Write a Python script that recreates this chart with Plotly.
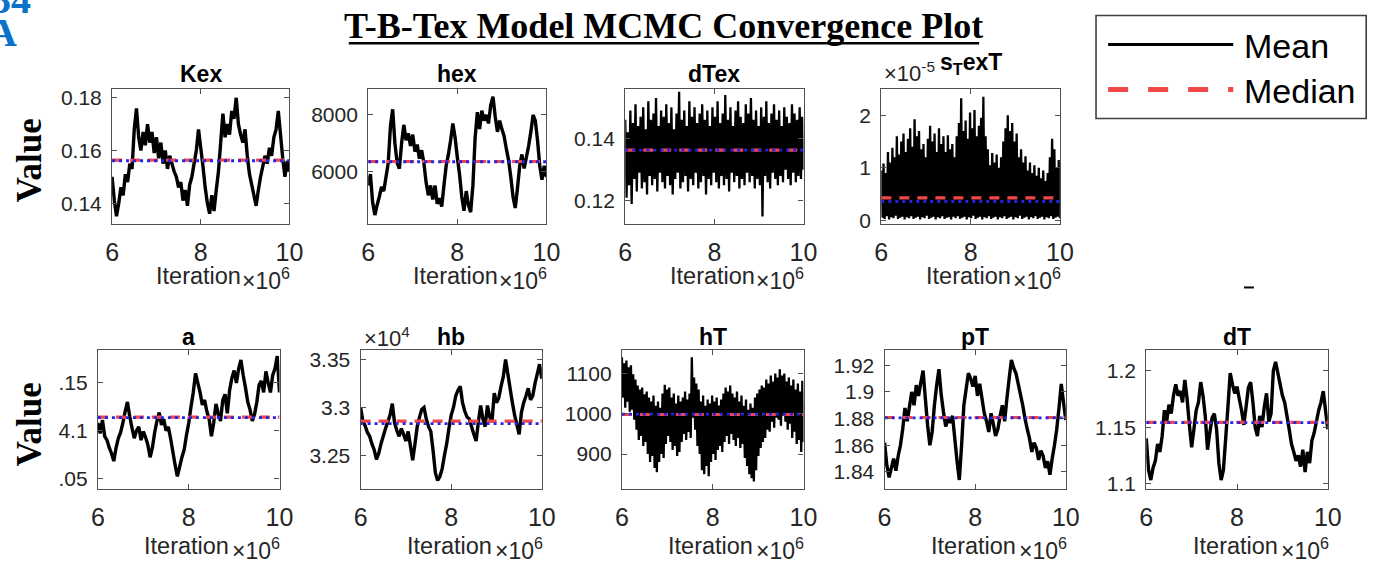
import numpy as np
import plotly.graph_objects as go

W, H = 1393, 577
ITER_START, ITER_END = 6e6, 10e6

# ---------------- data ----------------
kex = [0.150,0.141,0.135,0.140,0.146,0.143,0.151,0.148,0.155,0.153,
       0.168,0.176,0.165,0.160,0.167,0.162,0.170,0.163,0.167,0.159,
       0.165,0.157,0.163,0.155,0.160,0.153,0.158,0.155,0.152,0.150,
       0.146,0.148,0.141,0.145,0.139,0.147,0.150,0.155,0.160,0.168,
       0.161,0.154,0.146,0.140,0.136,0.143,0.137,0.145,0.152,0.163,
       0.174,0.165,0.170,0.166,0.175,0.172,0.180,0.170,0.166,0.163,
       0.168,0.158,0.151,0.147,0.143,0.139,0.145,0.150,0.154,0.158,
       0.155,0.161,0.158,0.165,0.168,0.175,0.166,0.157,0.150,0.156,
       0.152]

hex_vals = [5500,5900,4900,4450,4800,5100,5450,5300,5800,6300,
            7600,8200,7000,6300,6100,7000,7650,7100,7350,6900,
            7300,6700,6950,6450,6750,6300,5600,5150,5500,5000,
            5500,4850,5050,4750,5500,6200,6600,7100,7700,7200,
            6500,5900,5100,4600,5300,4800,4550,5500,7200,8100,
            7500,8150,7800,8000,7700,8350,8650,7950,7400,7800,
            7500,7250,6800,6400,5800,5100,4700,5400,6200,6600,
            6100,6500,6900,7400,8000,7800,7100,6200,5700,6200,
            5800]

dtex_hi = [0.146,0.142,0.149,0.145,0.151,0.144,0.147,0.150,0.143,0.152,
           0.146,0.148,0.153,0.144,0.149,0.147,0.151,0.145,0.150,0.143,
           0.148,0.155,0.146,0.149,0.144,0.152,0.147,0.150,0.145,0.148,
           0.151,0.146,0.149,0.144,0.150,0.147,0.152,0.145,0.148,0.154,
           0.146,0.150,0.144,0.149,0.152,0.147,0.145,0.151,0.148,0.153,
           0.146,0.149,0.144,0.150,0.147,0.152,0.145,0.148,0.151,0.146,
           0.149,0.144,0.150,0.147,0.145,0.151,0.148,0.146,0.150,0.147]
dtex_lo = [0.121,0.125,0.119,0.127,0.123,0.129,0.124,0.126,0.122,0.128,
           0.125,0.127,0.123,0.129,0.126,0.124,0.128,0.125,0.122,0.127,
           0.129,0.124,0.126,0.128,0.123,0.127,0.125,0.129,0.124,0.126,
           0.128,0.122,0.127,0.125,0.129,0.126,0.124,0.128,0.125,0.127,
           0.123,0.129,0.126,0.128,0.124,0.127,0.125,0.129,0.126,0.128,
           0.124,0.127,0.125,0.115,0.128,0.126,0.124,0.129,0.127,0.125,
           0.128,0.126,0.130,0.127,0.125,0.129,0.126,0.128,0.127,0.130]

# s_TexT values in units of 1e-5
stext_hi_e5 = [0.95,1.08,0.90,1.30,1.10,1.38,1.20,1.60,1.25,1.50,
               1.65,1.30,1.55,1.75,1.40,1.92,1.60,1.70,1.35,1.45,
               1.20,1.55,1.80,1.50,1.65,1.30,1.75,1.45,1.60,1.30,
               1.62,1.35,1.45,1.20,1.60,1.85,2.32,1.70,1.90,1.55,
               2.05,1.75,2.10,1.60,1.80,1.95,2.35,1.60,1.35,1.05,
               1.28,1.10,1.25,1.00,1.20,1.50,1.75,2.00,1.70,1.85,
               1.50,1.65,1.20,1.35,1.10,1.22,0.95,1.10,0.90,1.05,
               0.85,1.00,0.80,0.95,0.75,0.90,1.20,1.55,1.35,1.00,
               1.15]
stext_lo_e5 = [0.05,0.03,0.08,0.02,0.06,0.04,0.09,0.03,0.05,0.07,
               0.02,0.06,0.04,0.08,0.03,0.05,0.07,0.02,0.06,0.04,
               0.09,0.03,0.05,0.07,0.02,0.06,0.04,0.08,0.03,0.05,
               0.06,0.02,0.07,0.04,0.08,0.03,0.05,0.07,0.02,0.06,
               0.04,0.09,0.03,0.05,0.07,0.02,0.06,0.04,0.08,0.03,
               0.05,0.07,0.02,0.06,0.04,0.08,0.03,0.05,0.07,0.02,
               0.06,0.04,0.09,0.03,0.05,0.07,0.02,0.06,0.04,0.08,
               0.03,0.05,0.07,0.02,0.06,0.04,0.08,0.03,0.05,0.07,
               0.04]

a_vals = [4.108,4.097,4.111,4.094,4.090,4.082,4.076,4.068,4.082,4.092,
          4.098,4.108,4.120,4.130,4.115,4.103,4.092,4.100,4.104,4.090,
          4.099,4.093,4.085,4.072,4.082,4.098,4.110,4.119,4.106,4.112,
          4.100,4.104,4.092,4.078,4.064,4.052,4.062,4.072,4.080,4.095,
          4.108,4.125,4.140,4.160,4.150,4.140,4.127,4.132,4.120,4.112,
          4.094,4.108,4.128,4.118,4.110,4.132,4.138,4.118,4.142,4.155,
          4.163,4.150,4.165,4.174,4.158,4.145,4.130,4.122,4.110,4.117,
          4.130,4.148,4.152,4.140,4.162,4.150,4.140,4.158,4.165,4.178,
          4.140]

# hb values in units of 1e4
hb_e4 = [3.300,3.286,3.281,3.274,3.270,3.262,3.256,3.246,3.252,3.262,
         3.270,3.278,3.285,3.292,3.304,3.284,3.276,3.270,3.278,3.272,
         3.265,3.275,3.260,3.245,3.262,3.280,3.290,3.298,3.300,3.288,
         3.280,3.275,3.255,3.232,3.224,3.228,3.236,3.250,3.262,3.278,
         3.292,3.300,3.312,3.318,3.322,3.305,3.296,3.290,3.288,3.280,
         3.272,3.265,3.285,3.302,3.288,3.280,3.302,3.290,3.285,3.315,
         3.305,3.310,3.322,3.332,3.350,3.335,3.320,3.305,3.292,3.282,
         3.272,3.295,3.305,3.312,3.320,3.308,3.312,3.325,3.335,3.345,
         3.330]

ht_hi = [1140,1125,1132,1115,1120,1098,1085,1070,1060,1065,
         1048,1055,1040,1030,1045,1020,1030,1015,1050,1072,
         1060,1065,1040,1050,1025,1045,1030,1040,1055,1035,
         1050,1140,1090,1075,1060,1030,1045,1020,1035,1025,
         1045,1030,1040,1020,1035,1050,1065,1055,1070,1050,
         1040,1055,1030,1045,1020,1035,1010,1025,1015,1040,
         1050,1060,1070,1065,1085,1075,1095,1080,1100,1090,
         1110,1095,1100,1080,1090,1070,1085,1060,1075,1055,
         1082]
ht_lo = [1040,1015,1030,1005,1010,985,960,935,945,920,
         930,900,880,895,865,855,880,900,890,925,
         945,930,910,920,895,905,930,950,935,955,
         940,990,960,920,900,860,850,870,845,880,
         900,885,910,920,905,930,945,925,950,935,
         920,940,915,925,890,870,850,840,832,860,
         895,915,930,940,960,955,980,965,990,985,
         970,995,980,960,975,940,955,925,935,905,
         930]

pt_vals = [1.862,1.845,1.836,1.843,1.850,1.841,1.852,1.860,1.872,1.888,
           1.878,1.889,1.900,1.890,1.905,1.897,1.907,1.916,1.895,1.875,
           1.860,1.870,1.890,1.905,1.917,1.898,1.885,1.874,1.880,1.877,
           1.882,1.865,1.848,1.834,1.860,1.890,1.902,1.914,1.910,1.904,
           1.912,1.897,1.906,1.895,1.884,1.878,1.870,1.884,1.876,1.867,
           1.872,1.882,1.890,1.878,1.895,1.910,1.924,1.918,1.914,1.906,
           1.898,1.890,1.880,1.872,1.865,1.855,1.862,1.858,1.849,1.856,
           1.852,1.843,1.848,1.838,1.850,1.860,1.872,1.888,1.906,1.892,
           1.879]

dt_vals = [1.140,1.112,1.103,1.114,1.120,1.135,1.128,1.142,1.165,1.155,
           1.170,1.162,1.178,1.188,1.178,1.182,1.172,1.192,1.175,1.152,
           1.132,1.148,1.165,1.172,1.190,1.178,1.160,1.130,1.145,1.158,
           1.162,1.148,1.118,1.103,1.112,1.140,1.168,1.198,1.188,1.180,
           1.186,1.175,1.165,1.152,1.168,1.185,1.190,1.172,1.150,1.142,
           1.160,1.150,1.168,1.180,1.155,1.162,1.200,1.208,1.198,1.188,
           1.178,1.172,1.160,1.148,1.135,1.128,1.120,1.125,1.115,1.130,
           1.110,1.128,1.118,1.138,1.145,1.155,1.165,1.172,1.182,1.165,
           1.148]

# horizontal statistic lines (red dashed / blue dotted)
red_vals  = {'Kex': 0.1563, 'hex': 6350, 'dTex': 0.1363, 'sTexT': 0.43,
             'a': 4.1140, 'hb': 3.2858, 'hT': 998, 'pT': 1.8808, 'dT': 1.1543}
blue_vals = {'Kex': 0.1561, 'hex': 6340, 'dTex': 0.1363, 'sTexT': 0.36,
             'a': 4.1135, 'hb': 3.2831, 'hT': 999, 'pT': 1.8805, 'dT': 1.1540}

# axis ranges and ticks
y_ranges = {'Kex': [0.1322, 0.1834], 'hex': [4143, 8927], 'dTex': [0.11265, 0.15596],
            'sTexT': [-0.062, 2.50], 'a': [4.0387, 4.1842], 'hb': [3.215, 3.3596],
            'hT': [813, 1157.5], 'pT': [1.8272, 1.9312], 'dT': [1.095, 1.2183]}
y_ticks = {'Kex': ([0.14, 0.16, 0.18], ['0.14', '0.16', '0.18']),
           'hex': ([6000, 8000], ['6000', '8000']),
           'dTex': ([0.12, 0.14], ['0.12', '0.14']),
           'sTexT': ([0, 1, 2], ['0', '1', '2']),
           'a': ([4.05, 4.1, 4.15], ['.05', '4.1', '.15']),
           'hb': ([3.25, 3.3, 3.35], ['3.25', '3.3', '3.35']),
           'hT': ([900, 1000, 1100], ['900', '1000', '1100']),
           'pT': ([1.84, 1.86, 1.88, 1.9, 1.92], ['1.84', '1.86', '1.88', '1.9', '1.92']),
           'dT': ([1.1, 1.15, 1.2], ['1.1', '1.15', '1.2'])}
x_tickvals = [6e6, 8e6, 10e6]
x_ticktext = ['6', '8', '10']

titles = {'Kex': 'Kex', 'hex': 'hex', 'dTex': 'dTex', 'sTexT': 's<sub>T</sub>exT',
          'a': 'a', 'hb': 'hb', 'hT': 'hT', 'pT': 'pT', 'dT': 'dT'}

# ---------------- layout geometry (pixels) ----------------
boxes = {'Kex': (106.7, 286.7, 87.5, 225.0), 'hex': (366.7, 547.7, 87.5, 225.0),
         'dTex': (627.7, 808.7, 87.5, 225.0), 'sTexT': (887.7, 1069.0, 87.5, 225.0),
         'a': (92.3, 276.7, 354.0, 495.5), 'hb': (359.0, 543.0, 354.0, 495.5),
         'hT': (624.3, 808.7, 354.0, 495.5), 'pT': (891.0, 1075.0, 354.0, 495.5),
         'dT': (1156.7, 1341.0, 354.0, 495.5)}
order = ['Kex', 'hex', 'dTex', 'sTexT', 'a', 'hb', 'hT', 'pT', 'dT']

SANS = "Liberation Sans, Arial, Helvetica, sans-serif"
SERIF = "Liberation Serif, Times New Roman, serif"
AXC = '#505050'
TXT = '#262626'
RED = '#F04848'
BLUE = '#2323E6'

def px(x):
    return x / W

def py(y):
    return 1 - y / H

series = {'Kex': kex, 'hex': hex_vals, 'a': a_vals, 'hb': hb_e4, 'pT': pt_vals, 'dT': dt_vals}
bands = {'dTex': (dtex_hi, dtex_lo), 'sTexT': (stext_hi_e5, stext_lo_e5), 'hT': (ht_hi, ht_lo)}

fig = go.Figure()
layout = dict(width=W, height=H, autosize=False, margin=dict(l=0, r=0, t=0, b=0),
              paper_bgcolor='white', plot_bgcolor='white', showlegend=False)
annotations = []
shapes = []

for i, key in enumerate(order, start=1):
    xs = 'x' if i == 1 else f'x{i}'
    ys = 'y' if i == 1 else f'y{i}'
    xa = 'xaxis' if i == 1 else f'xaxis{i}'
    ya = 'yaxis' if i == 1 else f'yaxis{i}'
    x0, x1, y0, y1 = boxes[key]

    if key in series:
        vals = series[key]
        xv = np.linspace(ITER_START, ITER_END, len(vals))
        fig.add_trace(go.Scatter(x=xv, y=vals, mode='lines', xaxis=xs, yaxis=ys,
                                 line=dict(color='black', width=3.4, simplify=False),
                                 hoverinfo='skip'))
    else:
        hi, lo = bands[key]
        yy = []
        for h, l in zip(hi, lo):
            yy.extend([h, l])
        xv = np.linspace(ITER_START, ITER_END, len(yy))
        fig.add_trace(go.Scatter(x=xv, y=yy, mode='lines', xaxis=xs, yaxis=ys,
                                 line=dict(color='black', width=2.3, simplify=False),
                                 hoverinfo='skip'))

    fig.add_trace(go.Scatter(x=[ITER_START, ITER_END], y=[red_vals[key]] * 2, mode='lines',
                             xaxis=xs, yaxis=ys, hoverinfo='skip',
                             line=dict(color=RED, width=3.2, dash='10px,8px')))
    fig.add_trace(go.Scatter(x=[ITER_START, ITER_END], y=[blue_vals[key]] * 2, mode='lines',
                             xaxis=xs, yaxis=ys, hoverinfo='skip',
                             line=dict(color=BLUE, width=2.8, dash='3px,4px')))

    layout[xa] = dict(domain=[px(x0), px(x1)], anchor=ys, range=[ITER_START, ITER_END],
                      tickvals=x_tickvals, ticktext=x_ticktext, showline=True, linecolor=AXC,
                      linewidth=1.2, mirror='ticks', ticks='inside', ticklen=5, tickcolor=AXC,
                      showgrid=False, zeroline=False, ticklabelstandoff=6,
                      tickfont=dict(family=SANS, size=25, color=TXT))
    layout[ya] = dict(domain=[py(y1), py(y0)], anchor=xs, range=y_ranges[key],
                      tickvals=y_ticks[key][0], ticktext=y_ticks[key][1], showline=True,
                      linecolor=AXC, linewidth=1.2, mirror='ticks', ticks='inside', ticklen=5,
                      tickcolor=AXC, showgrid=False, zeroline=False, ticklabelstandoff=5,
                      tickfont=dict(family=SANS, size=21, color=TXT))

    cx = (x0 + x1) / 2
    ty = 72 if y0 < 200 else 341
    if key == 'sTexT':
        ty = 62
    annotations.append(dict(text=f'<b>{titles[key]}</b>', x=px(cx), y=py(ty), xref='paper',
                            yref='paper', showarrow=False, xanchor='center', yanchor='middle',
                            font=dict(family=SANS, size=23, color='black')))
    iy = y1 + 53 if y0 < 200 else y1 + 58
    annotations.append(dict(text='Iteration', x=px(cx - 2), y=py(iy), xref='paper', yref='paper',
                            showarrow=False, xanchor='center', yanchor='middle',
                            font=dict(family=SANS, size=23.5, color=TXT)))
    annotations.append(dict(text='×10<sup>6</sup>', x=px(x1 + 3), y=py(iy + 3), xref='paper',
                            yref='paper', showarrow=False, xanchor='right', yanchor='middle',
                            font=dict(family=SANS, size=23, color=TXT)))

# exponent labels at top-left of axes
annotations.append(dict(text='×10<sup>-5</sup>', x=px(888), y=py(70), xref='paper', yref='paper',
                        showarrow=False, xanchor='left', yanchor='middle',
                        font=dict(family=SANS, size=22, color=TXT)))
annotations.append(dict(text='×10<sup>4</sup>', x=px(360), y=py(341), xref='paper', yref='paper',
                        showarrow=False, xanchor='left', yanchor='middle',
                        font=dict(family=SANS, size=22, color=TXT)))

# row labels
for yc in (161, 430):
    annotations.append(dict(text='<b>Value</b>', x=px(23), y=py(yc), xref='paper', yref='paper',
                            showarrow=False, textangle=-90, xanchor='center', yanchor='middle',
                            font=dict(family=SERIF, size=35, color='black')))

# main title
annotations.append(dict(text='<b>T-B-Tex Model MCMC Convergence Plot</b>', x=px(667), y=py(23),
                        xref='paper', yref='paper', showarrow=False, xanchor='center',
                        yanchor='middle', font=dict(family=SERIF, size=36, color='black')))
shapes.append(dict(type='line', xref='paper', yref='paper', x0=px(347), x1=px(987),
                   y0=py(41), y1=py(41), line=dict(color='black', width=2.5)))

# clipped panel label at top-left
annotations.append(dict(text='<b>34</b>', x=px(26), y=py(-4), xref='paper', yref='paper',
                        showarrow=False, xanchor='right', yanchor='middle',
                        font=dict(family=SERIF, size=40, color='#0A72C8')))
annotations.append(dict(text='<b>A</b>', x=px(12), y=py(30), xref='paper', yref='paper',
                        showarrow=False, xanchor='right', yanchor='middle',
                        font=dict(family=SERIF, size=40, color='#0A72C8')))

# legend box
shapes.append(dict(type='rect', xref='paper', yref='paper', x0=px(1105.7), x1=px(1380),
                   y0=py(117.7), y1=py(12.7), line=dict(color='#404040', width=1.6),
                   fillcolor='white'))
shapes.append(dict(type='line', xref='paper', yref='paper', x0=px(1118), x1=px(1245),
                   y0=py(42.3), y1=py(42.3), line=dict(color='black', width=3)))
shapes.append(dict(type='line', xref='paper', yref='paper', x0=px(1118), x1=px(1245),
                   y0=py(88.3), y1=py(88.3), line=dict(color=RED, width=5, dash='20px,20px')))
annotations.append(dict(text='Mean', x=px(1254), y=py(43.5), xref='paper', yref='paper',
                        showarrow=False, xanchor='left', yanchor='middle',
                        font=dict(family=SANS, size=34, color='black')))
annotations.append(dict(text='Median', x=px(1254), y=py(90), xref='paper', yref='paper',
                        showarrow=False, xanchor='left', yanchor='middle',
                        font=dict(family=SANS, size=34, color='black')))
# small stray mark
shapes.append(dict(type='line', xref='paper', yref='paper', x0=px(1256), x1=px(1266),
                   y0=py(290), y1=py(290), line=dict(color='black', width=2)))

layout['annotations'] = annotations
layout['shapes'] = shapes
fig.update_layout(**layout)
fig.write_html("out.html")
